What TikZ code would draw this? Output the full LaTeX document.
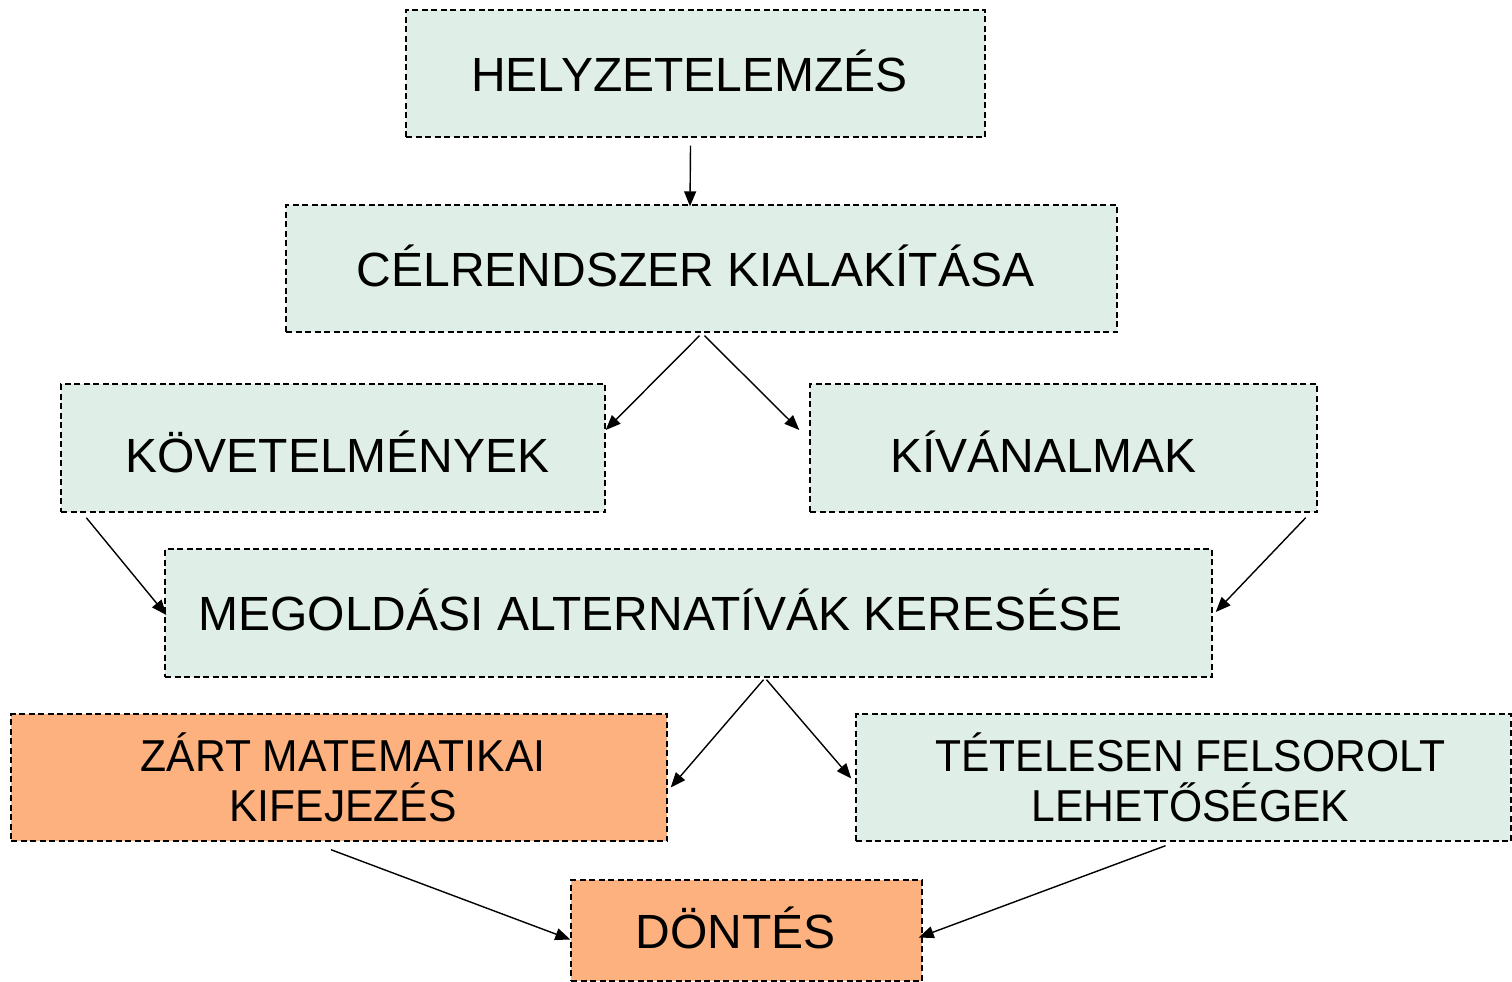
\documentclass[tikz,border=0pt]{standalone}
\usepackage{fontspec}
\setmainfont{Liberation Sans}
\newfontfamily\condfont[FakeStretch=0.953]{Liberation Sans}
\usetikzlibrary{arrows.meta}
\definecolor{boxgreen}{RGB}{223,238,230}
\definecolor{boxorange}{RGB}{253,177,126}
\newcommand\shtext[2]{\kern#1\relax#2\kern-#1\relax}
\tikzset{
  box/.style={draw=black, dashed, dash pattern=on 6pt off 3.5pt, line width=1.4pt,
    inner sep=0pt, anchor=center, align=center,
    font=\fontsize{48}{56}\selectfont, text height=35pt, text depth=0pt},
  greenbox/.style={box, fill=boxgreen},
  orangebox/.style={box, fill=boxorange},
  twoline/.style={font=\condfont\fontsize{44.7}{50}\selectfont, text height=, text depth=},
  lowtext/.style={text height=49pt},
  arr/.style={-{Triangle[length=15pt,width=12pt]}, line width=1.4pt, black}
}
\begin{document}
\begin{tikzpicture}[x=1pt,y=-1pt]
\useasboundingbox (0,0) rectangle (1512,982);
\node[greenbox, minimum width=579pt, minimum height=127pt] (h) at (695.5,73.5) {\shtext{-6pt}{HELYZETELEMZÉS}};
\node[greenbox, minimum width=831pt, minimum height=127pt] (c) at (701.5,268.5) {\shtext{-6pt}{CÉLRENDSZER KIALAKÍTÁSA}};
\node[greenbox, lowtext, minimum width=544pt, minimum height=128pt] (k) at (333,448) {\shtext{4.5pt}{KÖVETELMÉNYEK}};
\node[greenbox, lowtext, minimum width=507pt, minimum height=128pt] (kv) at (1063.5,448) {\shtext{-20pt}{KÍVÁNALMAK}};
\node[greenbox, minimum width=1047pt, minimum height=128pt] (m) at (688.5,613) {\shtext{-28pt}{MEGOLDÁSI ALTERNATÍVÁK KERESÉSE}};
\node[orangebox, twoline, minimum width=656pt, minimum height=127pt] (z) at (339,777.5) {\shtext{4pt}{ZÁRT MATEMATIKAI}\\\shtext{4pt}{KIFEJEZÉS}};
\node[greenbox, twoline, minimum width=655pt, minimum height=127pt] (t) at (1183.5,777.5) {\shtext{7pt}{TÉTELESEN FELSOROLT}\\\shtext{7pt}{LEHETŐSÉGEK}};
\node[orangebox, minimum width=351pt, minimum height=101pt] (d) at (746.5,930.5) {\shtext{-11pt}{DÖNTÉS}};
\draw[arr] ([xshift=-5pt,yshift=-8pt]h.south) -- ([xshift=-11.5pt,yshift=-2pt]c.north);
\draw[arr] ([xshift=-2pt,yshift=-3pt]c.south) -- ([xshift=0pt,yshift=18pt]k.east);
\draw[arr] ([xshift=3pt,yshift=-3pt]c.south) -- ([xshift=-10pt,yshift=18pt]kv.west);
\draw[arr] ([xshift=26pt,yshift=-5pt]k.south west) -- ([xshift=2pt,yshift=-2pt]m.west);
\draw[arr] ([xshift=-12pt,yshift=-5pt]kv.south east) -- ([xshift=3pt,yshift=1pt]m.east);
\draw[arr] ([xshift=75pt,yshift=-2pt]m.south) -- ([xshift=3pt,yshift=-10pt]z.east);
\draw[arr] ([xshift=78pt,yshift=-2pt]m.south) -- ([xshift=-4pt,yshift=-1pt]t.west);
\draw[arr] ([xshift=-8pt,yshift=-8pt]z.south) -- ([yshift=-9pt]d.west);
\draw[arr] ([xshift=-18pt,yshift=-4pt]t.south) -- ([xshift=-4pt,yshift=-7pt]d.east);
\end{tikzpicture}
\end{document}
